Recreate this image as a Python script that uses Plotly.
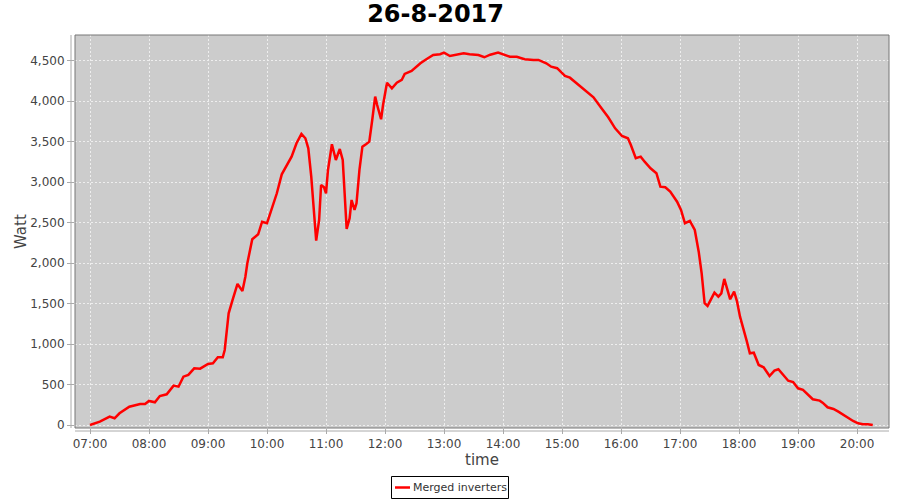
import plotly.graph_objects as go

day = "2017-08-26"

times = [
    "07:00", "07:10", "07:20", "07:25", "07:30", "07:40", "07:51", "07:56", "08:00", "08:06",
    "08:11", "08:18", "08:25", "08:30", "08:35", "08:40", "08:46", "08:52", "09:00", "09:05",
    "09:10", "09:15", "09:17", "09:21", "09:25", "09:30", "09:35", "09:38", "09:40", "09:45",
    "09:51", "09:55", "10:00", "10:05", "10:10", "10:15", "10:20", "10:25", "10:30", "10:35",
    "10:39", "10:42", "10:45", "10:48", "10:50", "10:53", "10:55", "10:58", "11:00", "11:02",
    "11:06", "11:10", "11:14", "11:17", "11:19", "11:21", "11:24", "11:26", "11:29", "11:31",
    "11:34", "11:37", "11:41", "11:44", "11:47", "11:50", "11:52", "11:56", "11:58", "12:02",
    "12:07", "12:12", "12:17", "12:20", "12:27", "12:36", "12:42", "12:49", "12:56", "13:00",
    "13:06", "13:13", "13:20", "13:26", "13:35", "13:41", "13:47", "13:55", "14:01", "14:07",
    "14:14", "14:22", "14:31", "14:36", "14:44", "14:49", "14:55", "15:00", "15:03", "15:08",
    "15:13", "15:17", "15:23", "15:32", "15:39", "15:47", "15:54", "16:01", "16:07", "16:10",
    "16:15", "16:20", "16:24", "16:30", "16:36", "16:40", "16:45", "16:50", "16:57", "17:01",
    "17:05", "17:10", "17:15", "17:19", "17:22", "17:25", "17:28", "17:31", "17:35", "17:39",
    "17:42", "17:45", "17:47", "17:51", "17:55", "17:58", "18:01", "18:04", "18:08", "18:11",
    "18:15", "18:20", "18:25", "18:31", "18:36", "18:40", "18:45", "18:50", "18:55", "19:00",
    "19:05", "19:10", "19:15", "19:22", "19:25", "19:30", "19:36", "19:41", "19:46", "19:51",
    "19:56", "20:01", "20:06", "20:11", "20:16",
]

watts = [
    2, 43, 105, 85, 147, 228, 262, 262, 299, 282,
    360, 381, 488, 475, 599, 620, 702, 698, 756, 764,
    838, 838, 928, 1381, 1546, 1743, 1657, 1833, 1999, 2295,
    2357, 2512, 2493, 2678, 2863, 3097, 3212, 3315, 3480, 3595,
    3542, 3418, 3068, 2533, 2278, 2533, 2965, 2937, 2863, 3151,
    3468, 3274, 3410, 3274, 2842, 2422, 2554, 2780, 2657, 2739,
    3151, 3438, 3472, 3500, 3768, 4056, 3953, 3777, 3953, 4228,
    4159, 4228, 4262, 4336, 4373, 4468, 4518, 4570, 4579, 4599,
    4558, 4570, 4591, 4579, 4570, 4542, 4574, 4599, 4570, 4549,
    4549, 4518, 4509, 4509, 4468, 4426, 4407, 4344, 4311, 4290,
    4241, 4200, 4147, 4048, 3932, 3801, 3665, 3570, 3542, 3459,
    3295, 3315, 3253, 3172, 3110, 2944, 2937, 2883, 2759, 2657,
    2493, 2521, 2410, 2142, 1875, 1505, 1472, 1546, 1636, 1587,
    1628, 1805, 1710, 1554, 1648, 1525, 1340, 1216, 1031, 888,
    895, 743, 715, 607, 673, 690, 620, 549, 533, 455,
    435, 373, 320, 303, 278, 221, 200, 167, 126, 85,
    52, 23, 11, 11, 2,
]

tick_hours = ["07:00", "08:00", "09:00", "10:00", "11:00", "12:00", "13:00",
              "14:00", "15:00", "16:00", "17:00", "18:00", "19:00", "20:00"]
y_ticks = [0, 500, 1000, 1500, 2000, 2500, 3000, 3500, 4000, 4500]
series_name = "Merged inverters"

x = [f"{day} {t}" for t in times]

# plot area in pixels: x 75..889, y 35..428
L, R, T, B = 75, 889, 35, 428
def px(v):
    return (v - L) / (R - L)
def py(v):
    return (B - v) / (B - T)

fig = go.Figure()
fig.add_trace(go.Scatter(x=x, y=watts, mode="lines", name=series_name,
                         line=dict(color="#ff0000", width=2.5), showlegend=False))

font = "DejaVu Sans"
fig.update_layout(
    width=900, height=500,
    margin=dict(l=L, r=900 - R, t=T, b=500 - B, autoexpand=False),
    paper_bgcolor="white",
    plot_bgcolor="#cccccc",
    font=dict(family=font, size=11, color="#444444"),
    title=dict(text="<b>26-8-2017</b>", x=0.484, xref="container", xanchor="center",
               y=0.972, yref="container", yanchor="middle",
               font=dict(family=font, size=24, color="black")),
    shapes=[
        dict(type="rect", xref="paper", yref="paper", x0=0, x1=1, y0=0, y1=1,
             line=dict(color="#777777", width=1), layer="above"),
        dict(type="line", xref="paper", yref="paper", x0=px(71), x1=px(71), y0=0, y1=1,
             line=dict(color="#aaaaaa", width=1)),
        dict(type="line", xref="paper", yref="paper", x0=0, x1=1, y0=py(431), y1=py(431),
             line=dict(color="#aaaaaa", width=1)),
        # legend box
        dict(type="rect", xref="paper", yref="paper", x0=px(391.5), x1=px(508.5),
             y0=py(498.5), y1=py(476.5), line=dict(color="black", width=1),
             fillcolor="white"),
        dict(type="line", xref="paper", yref="paper", x0=px(395), x1=px(410),
             y0=py(487.5), y1=py(487.5), line=dict(color="#ff0000", width=2.5)),
    ],
    annotations=[
        dict(text="time", xref="paper", yref="paper", x=px(482), y=py(460),
             xanchor="center", yanchor="middle", showarrow=False,
             font=dict(size=15, color="#444444")),
        dict(text="Watt", xref="paper", yref="paper", x=px(21), y=py(232),
             xanchor="center", yanchor="middle", showarrow=False, textangle=-90,
             font=dict(size=15, color="#444444")),
        dict(text=series_name, xref="paper", yref="paper", x=px(411), y=py(487.5),
             xanchor="left", yanchor="middle", showarrow=False,
             font=dict(size=11, color="#333333")),
    ],
)

fig.update_xaxes(
    type="date", automargin=False,
    range=[f"{day} 06:44:45", f"{day} 20:32:30"],
    tickvals=[f"{day} {t}" for t in tick_hours],
    ticktext=tick_hours,
    showgrid=True, gridcolor="#eeeeee", griddash="2px,2px", gridwidth=1,
    zeroline=False, showline=False,
    ticks="outside", ticklen=5, tickcolor="#aaaaaa",
    tickfont=dict(size=12),
)
fig.update_yaxes(
    automargin=False,
    range=[-35, 4817],
    tickvals=y_ticks,
    tickformat=",d",
    showgrid=True, gridcolor="#eeeeee", griddash="2px,2px", gridwidth=1,
    zeroline=False, showline=False,
    ticks="outside", ticklen=7, tickcolor="#aaaaaa",
    tickfont=dict(size=12),
)

# the page body has a default 8px margin; drop it so the figure fills the window
fig.write_html("out.html", config={"displayModeBar": False},
               post_script="document.body.style.margin='0';")
